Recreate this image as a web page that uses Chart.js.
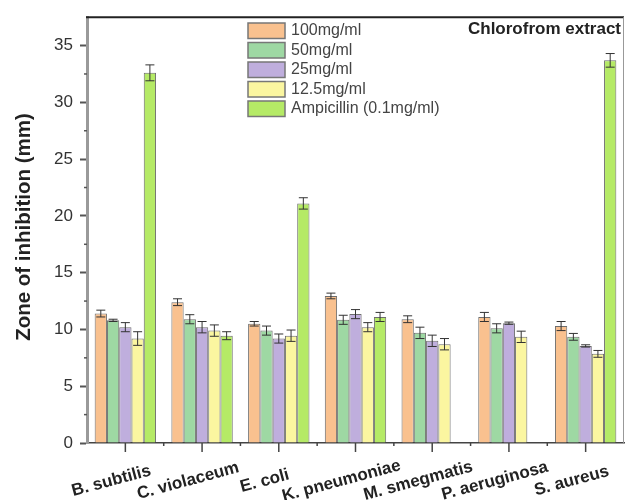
<!DOCTYPE html>
<html>
<head>
<meta charset="utf-8">
<script src="https://cdn.jsdelivr.net/npm/chart.js@4.4.1/dist/chart.umd.min.js"></script>
<style>
  body { margin: 0; background: #fff; }
  canvas { display: block; }
</style>
</head>
<body>
<canvas id="zoneChart" width="626" height="500"></canvas>
<script>
// Data
const categories = ['B. subtilis', 'C. violaceum', 'E. coli', 'K. pneumoniae', 'M. smegmatis', 'P. aeruginosa', 'S. aureus'];
const seriesLabels = ['100mg/ml', '50mg/ml', '25mg/ml', '12.5mg/ml', 'Ampicillin (0.1mg/ml)'];

const conc100 = [11.4, 12.4, 10.5, 12.95, 10.9, 11.1, 10.3];
const conc50 = [10.8, 10.9, 9.9, 10.85, 9.7, 10.1, 9.35];
const conc25 = [10.2, 10.2, 9.2, 11.35, 9.0, 10.55, 8.55];
const conc12 = [9.2, 9.9, 9.45, 10.2, 8.7, 9.35, 7.85];
const ampicillin = [32.6, 9.45, 21.1, 11.1, null, null, 33.7];

const err100 = [0.3, 0.3, 0.2, 0.25, 0.3, 0.4, 0.4];
const err50 = [0.1, 0.4, 0.4, 0.4, 0.5, 0.4, 0.3];
const err25 = [0.4, 0.5, 0.4, 0.4, 0.5, 0.1, 0.1];
const err12 = [0.6, 0.5, 0.5, 0.4, 0.5, 0.5, 0.3];
const errAmp = [0.7, 0.35, 0.5, 0.4, null, null, 0.6];

const yTicks = [0, 5, 10, 15, 20, 25, 30, 35];
const yMinorTicks = [2.5, 7.5, 12.5, 17.5, 22.5, 27.5, 32.5];

const colors = ['#F9C18F', '#9ED8A3', '#BFAEDD', '#FBF6A0', '#B5EA66'];
const FONT = '"Liberation Sans", Arial, sans-serif';

const values = [conc100, conc50, conc25, conc12, ampicillin];
const errors = [err100, err50, err25, err12, errAmp];

// error bars, extra ticks, legend, title, x labels
const decorPlugin = {
    id: 'decor',
    afterDatasetsDraw(chart) {
        const ctx = chart.ctx;
        const y = chart.scales.y;
        ctx.save();
        ctx.strokeStyle = '#333';
        ctx.lineWidth = 1;
        chart.data.datasets.forEach((ds, di) => {
            const meta = chart.getDatasetMeta(di);
            meta.data.forEach((bar, i) => {
                const v = ds.data[i];
                const e = errors[di][i];
                if (v == null || e == null) return;
                const top = y.getPixelForValue(v + e);
                const bot = y.getPixelForValue(v - e);
                const x = bar.x;
                ctx.beginPath();
                ctx.moveTo(x, top); ctx.lineTo(x, bot);
                ctx.moveTo(x - 4.5, top); ctx.lineTo(x + 4.5, top);
                ctx.moveTo(x - 4.5, bot); ctx.lineTo(x + 4.5, bot);
                ctx.stroke();
            });
        });
        ctx.restore();
    },
    afterDraw(chart) {
        const ctx = chart.ctx;
        const area = chart.chartArea;
        const x = chart.scales.x;
        const y = chart.scales.y;
        ctx.save();

        // frame top and right
        ctx.strokeStyle = '#222';
        ctx.lineWidth = 2;
        ctx.beginPath();
        ctx.moveTo(area.left - 1, area.top); ctx.lineTo(area.right, area.top);
        ctx.stroke();
        ctx.strokeStyle = '#999';
        ctx.lineWidth = 1;
        ctx.beginPath();
        ctx.moveTo(area.right - 0.5, area.top); ctx.lineTo(area.right - 0.5, area.bottom);
        ctx.stroke();

        // y minor ticks
        ctx.strokeStyle = '#555';
        ctx.lineWidth = 1.5;
        yMinorTicks.forEach(v => {
            const py = y.getPixelForValue(v);
            ctx.beginPath();
            ctx.moveTo(area.left - 3, py); ctx.lineTo(area.left, py);
            ctx.stroke();
        });

        // x ticks: major at centres, minor at boundaries
        ctx.strokeStyle = '#444';
        categories.forEach((c, i) => {
            const px = x.getPixelForTick(i);
            ctx.beginPath();
            ctx.moveTo(px, area.bottom); ctx.lineTo(px, area.bottom + 9);
            ctx.stroke();
            if (i < categories.length - 1) {
                const mx = (px + x.getPixelForTick(i + 1)) / 2;
                ctx.beginPath();
                ctx.moveTo(mx, area.bottom); ctx.lineTo(mx, area.bottom + 3);
                ctx.stroke();
            }
        });

        // x labels, rotated
        ctx.fillStyle = '#222';
        ctx.font = 'bold 17px ' + FONT;
        ctx.textAlign = 'center';
        ctx.textBaseline = 'middle';
        categories.forEach((c, i) => {
            const px = x.getPixelForTick(i);
            ctx.save();
            ctx.translate(px - 14, 481);
            ctx.rotate(-15 * Math.PI / 180);
            ctx.fillText(c, 0, 0);
            ctx.restore();
        });

        // y axis title
        ctx.save();
        ctx.translate(24, 227);
        ctx.rotate(-Math.PI / 2);
        ctx.font = 'bold 20.5px ' + FONT;
        ctx.fillStyle = '#222';
        ctx.fillText('Zone of inhibition (mm)', 0, 0);
        ctx.restore();

        // title
        ctx.font = 'bold 17px ' + FONT;
        ctx.textAlign = 'right';
        ctx.textBaseline = 'alphabetic';
        ctx.fillStyle = '#222';
        ctx.fillText('Chlorofrom extract', 621, 34);

        // legend
        ctx.font = '16px ' + FONT;
        ctx.textAlign = 'left';
        ctx.textBaseline = 'middle';
        seriesLabels.forEach((label, i) => {
            const by = 23 + i * 19.5;
            ctx.fillStyle = colors[i];
            ctx.fillRect(248, by, 37, 15.5);
            ctx.strokeStyle = '#777';
            ctx.lineWidth = 1.5;
            ctx.strokeRect(248, by, 37, 15.5);
            ctx.fillStyle = '#444';
            ctx.fillText(label, 291, by + 8);
        });

        ctx.restore();
    }
};

const zoneChart = new Chart(document.getElementById('zoneChart').getContext('2d'), {
    type: 'bar',
    data: {
        labels: categories,
        datasets: seriesLabels.map((label, i) => ({
            label: label,
            data: values[i],
            backgroundColor: colors[i],
            borderColor: 'rgba(60,60,60,0.75)',
            borderWidth: 1,
            categoryPercentage: 0.8,
            barPercentage: 1.0
        }))
    },
    options: {
        responsive: false,
        animation: false,
        layout: { padding: { top: 16, right: 2, left: 0, bottom: 0 } },
        plugins: { legend: { display: false }, tooltip: { enabled: false } },
        scales: {
            x: {
                grid: { display: false },
                border: { display: true, color: '#444', width: 1.5 },
                ticks: { display: false },
                afterFit: s => { s.height = 57; }
            },
            y: {
                min: 0,
                max: 37.5,
                afterBuildTicks: s => { s.ticks = yTicks.map(v => ({ value: v })); },
                grid: { drawOnChartArea: false, drawTicks: true, tickLength: 7, tickColor: '#555', tickWidth: 2 },
                border: { display: true, color: '#9a9a9a', width: 3 },
                ticks: { color: '#333', padding: 7, font: { family: FONT, size: 17 } },
                afterFit: s => { s.width = 87; }
            }
        }
    },
    plugins: [decorPlugin]
});
</script>
</body>
</html>
